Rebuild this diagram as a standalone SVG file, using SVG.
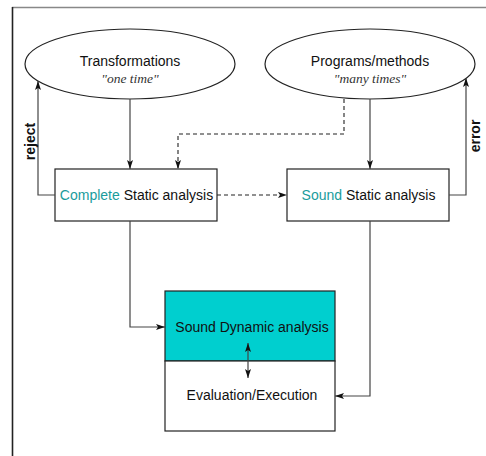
<svg xmlns="http://www.w3.org/2000/svg" width="486" height="456" viewBox="0 0 486 456">
<style>
.ln{fill:none;stroke:#444;stroke-width:1.2}
.ds{fill:none;stroke:#222;stroke-width:1.1;stroke-dasharray:4,3}
.nd{fill:#fff;stroke:#222;stroke-width:1.2}
.t{font-family:"Liberation Sans",Arial,sans-serif;font-size:14px;fill:#111;text-anchor:middle}
.i{font-family:"Liberation Serif","Times New Roman",serif;font-style:italic;font-size:13.5px;fill:#333;text-anchor:middle}
.b{font-family:"Liberation Sans",Arial,sans-serif;font-size:14px;font-weight:bold;fill:#111;text-anchor:middle}
.c{fill:#1a9c9c}
</style>
<defs>
<marker id="ah" markerUnits="userSpaceOnUse" markerWidth="10" markerHeight="8" refX="9" refY="3" orient="auto">
<path d="M0,0 L9,3 L0,6 L2,3 z" fill="#111"/>
</marker>
<marker id="as" markerUnits="userSpaceOnUse" markerWidth="10" markerHeight="8" refX="0" refY="3" orient="auto">
<path d="M9,0 L0,3 L9,6 L7,3 z" fill="#111"/>
</marker>
</defs>
<rect width="486" height="456" fill="#fff"/>
<g id="frame">
<line x1="12" y1="7.5" x2="486" y2="7.5" stroke="#888" stroke-width="1.6"/>
<line x1="12.5" y1="7" x2="12.5" y2="456" stroke="#222" stroke-width="1.6"/>
</g>
<g id="transformations">
<ellipse class="nd" cx="130" cy="64" rx="105" ry="35"/>
<text class="t" x="130" y="66">Transformations</text>
<text class="i" x="130" y="83">"one time"</text>
</g>
<g id="programs">
<ellipse class="nd" cx="370" cy="64" rx="105" ry="35"/>
<text class="t" x="370" y="66">Programs/methods</text>
<text class="i" x="370" y="83">"many times"</text>
</g>
<g id="complete">
<rect class="nd" x="55" y="169" width="162" height="52"/>
<text class="t" x="136.5" y="200"><tspan class="c">Complete</tspan> Static analysis</text>
</g>
<g id="sound">
<rect class="nd" x="287" y="169" width="162" height="52"/>
<text class="t" x="368.5" y="200"><tspan class="c">Sound</tspan> Static analysis</text>
</g>
<g id="dynamic">
<rect x="165" y="291" width="170" height="70" fill="#00cfcf" stroke="#222" stroke-width="1.2"/>
<text class="t" x="252" y="332">Sound Dynamic analysis</text>
</g>
<g id="evaluation">
<rect class="nd" x="165" y="361" width="170" height="70"/>
<text class="t" x="252" y="400">Evaluation/Execution</text>
</g>
<g id="connectors">
<line class="ln" x1="130" y1="99" x2="130" y2="169" marker-end="url(#ah)"/>
<line class="ln" x1="370" y1="99" x2="370" y2="169" marker-end="url(#ah)"/>
<polyline class="ds" points="344,99 344,134 178,134 178,169" marker-end="url(#ah)"/>
<line class="ds" x1="217" y1="195" x2="287" y2="195" marker-end="url(#ah)"/>
<polyline class="ln" points="55,195 38,195 38,81" marker-end="url(#ah)"/>
<polyline class="ln" points="449,195 466,195 466,78" marker-end="url(#ah)"/>
<polyline class="ln" points="130,221 130,327 165,327" marker-end="url(#ah)"/>
<polyline class="ln" points="370,221 370,396 335,396" marker-end="url(#ah)"/>
<line class="ln" x1="248" y1="343" x2="248" y2="378" marker-start="url(#as)" marker-end="url(#ah)"/>
<text class="b" transform="translate(35,141.5) rotate(-90)">reject</text>
<text class="b" transform="translate(480,136) rotate(-90)">error</text>
</g>
</svg>
